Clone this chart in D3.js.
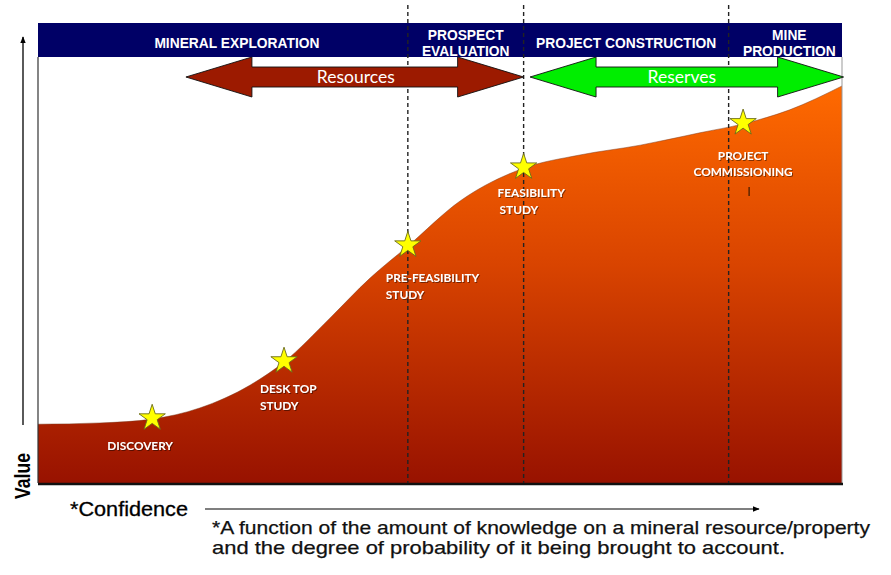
<!DOCTYPE html>
<html>
<head>
<meta charset="utf-8">
<script src="https://cdn.jsdelivr.net/npm/d3@7"></script>
<style>
  body { margin: 0; background: #fff; }
  svg { display: block; }
</style>
</head>
<body>
<svg></svg>
<script>
const W = 891, H = 575;

// curve: value against confidence (both 0..100)
const confidence = [0, 7.7, 14.2, 20.1, 26.4, 30.6, 36.3, 41.3, 46.0, 52.5, 60.4, 67.4, 74.9, 82.3, 87.7, 93.5, 100];
const value      = [13.8, 14.1, 15.0, 17.6, 23.0, 28.4, 38.7, 48.1, 55.6, 66.2, 73.9, 77.0, 79.3, 82.2, 84.3, 87.6, 93.2];

// milestones (stars)
const milestoneNames = [["DISCOVERY"], ["DESK TOP", "STUDY"], ["PRE-FEASIBILITY", "STUDY"], ["FEASIBILITY", "STUDY"], ["PROJECT", "COMMISSIONING"]];
const milestoneConf  = [14.2, 30.6, 46.0, 60.4, 87.7];
const milestoneValue = [15.0, 28.4, 55.6, 73.9, 84.3];

// stages along the top
const stageBounds = [0, 46.0, 60.4, 85.9, 100];
const stageNames  = [["MINERAL EXPLORATION"], ["PROSPECT", "EVALUATION"], ["PROJECT CONSTRUCTION"], ["MINE", "PRODUCTION"]];

// double arrows (confidence ranges)
const arrowNames = ["Resources", "Reserves"];
const arrowFrom  = [18.4, 61.2];
const arrowTo    = [60.4, 100.2];

const axisX = "*Confidence";
const axisY = "Value";
const footnote = ["*A function of the amount of knowledge on a mineral resource/property",
                  "and the degree of probability of it being brought to account."];

// layout
const pLeft = 38, pRight = 842, pTop = 57, pBottom = 483, headTop = 23;
const x = d3.scaleLinear().domain([0, 100]).range([pLeft, pRight]);
const y = d3.scaleLinear().domain([0, 100]).range([pBottom, pTop]);

const svg = d3.select('svg').attr('width', W).attr('height', H);
const defs = svg.append('defs');

const grad = defs.append('linearGradient')
    .attr('id', 'fillGrad')
    .attr('gradientUnits', 'userSpaceOnUse')
    .attr('x1', 0).attr('x2', 0).attr('y1', 85).attr('y2', pBottom);
grad.append('stop').attr('offset', 0).attr('stop-color', '#ff6a00');
grad.append('stop').attr('offset', 0.45).attr('stop-color', '#d94400');
grad.append('stop').attr('offset', 1).attr('stop-color', '#981200');

defs.append('marker')
    .attr('id', 'head')
    .attr('viewBox', '0 0 10 10')
    .attr('refX', 9).attr('refY', 5)
    .attr('markerWidth', 7).attr('markerHeight', 7)
    .attr('markerUnits', 'userSpaceOnUse')
    .attr('orient', 'auto')
    .append('path').attr('d', 'M0,1 L10,5 L0,9 Z').attr('fill', '#000');

const shadow = defs.append('filter').attr('id', 'shadow')
    .attr('x', '-10%').attr('y', '-30%').attr('width', '130%').attr('height', '170%');
shadow.append('feDropShadow')
    .attr('dx', 1).attr('dy', 1).attr('stdDeviation', 0.6)
    .attr('flood-color', '#000').attr('flood-opacity', 0.45);

// area under the curve
const pts = confidence.map((c, i) => ({c: c, v: value[i]}));
const area = d3.area()
    .x(d => x(d.c))
    .y0(pBottom)
    .y1(d => y(d.v))
    .curve(d3.curveMonotoneX);
const line = d3.line()
    .x(d => x(d.c))
    .y(d => y(d.v))
    .curve(d3.curveMonotoneX);

svg.append('path').attr('d', area(pts)).attr('fill', 'url(#fillGrad)');
svg.append('path').attr('d', line(pts)).attr('fill', 'none').attr('stroke', '#7a3a20').attr('stroke-width', 0.8).attr('stroke-opacity', 0.6);

// plot frame
svg.append('line').attr('x1', pLeft).attr('x2', pLeft).attr('y1', pTop).attr('y2', pBottom)
    .attr('stroke', '#333').attr('stroke-width', 1.2);
svg.append('line').attr('x1', pRight).attr('x2', pRight).attr('y1', pTop).attr('y2', pBottom)
    .attr('stroke', '#999').attr('stroke-width', 1);
svg.append('line').attr('x1', pLeft).attr('x2', pRight + 1).attr('y1', pBottom + 1).attr('y2', pBottom + 1)
    .attr('stroke', '#111').attr('stroke-width', 2.4);

// header band
svg.append('rect')
    .attr('x', pLeft).attr('y', headTop)
    .attr('width', pRight - pLeft).attr('height', pTop - headTop)
    .attr('fill', '#000066');

const stages = stageNames.map((n, i) => ({lines: n, from: stageBounds[i], to: stageBounds[i + 1]}));
const stageDx = [14, 0, 0, 4];
svg.append('g').selectAll('text')
    .data(stages)
    .join('text')
    .attr('text-anchor', 'middle')
    .attr('font-family', 'Liberation Sans, Arial, sans-serif')
    .attr('font-weight', 'bold')
    .attr('font-size', 13.8)
    .attr('fill', '#fff')
    .each(function(d, i) {
        const cx = (x(d.from) + x(d.to)) / 2 + stageDx[i];
        const y0 = d.lines.length === 1 ? 48 : 40;
        d3.select(this).selectAll('tspan')
            .data(d.lines)
            .join('tspan')
            .attr('x', cx)
            .attr('y', (t, k) => y0 + k * 15.5)
            .text(t => t);
    });

// stage separators
svg.append('g').selectAll('line')
    .data(stageBounds.slice(1, -1))
    .join('line')
    .attr('x1', d => x(d)).attr('x2', d => x(d))
    .attr('y1', 5).attr('y2', pBottom)
    .attr('stroke', '#222')
    .attr('stroke-width', 1.4)
    .attr('stroke-dasharray', '4,3');

// double arrows
const arrowColors = ['#9c1a00', '#00ee00'];
const arrowY = 77, headLen = 66, headHalf = 20, shaftHalf = 10;
const arrowPath = (a, b) => {
    const x0 = x(a), x1 = x(b);
    return [
        [x0, arrowY], [x0 + headLen, arrowY - headHalf], [x0 + headLen, arrowY - shaftHalf],
        [x1 - headLen, arrowY - shaftHalf], [x1 - headLen, arrowY - headHalf], [x1, arrowY],
        [x1 - headLen, arrowY + headHalf], [x1 - headLen, arrowY + shaftHalf],
        [x0 + headLen, arrowY + shaftHalf], [x0 + headLen, arrowY + headHalf]
    ].map(p => p.join(',')).join(' ');
};
const arrows = svg.append('g').selectAll('g')
    .data(arrowNames.map((n, i) => ({name: n, from: arrowFrom[i], to: arrowTo[i]})))
    .join('g');
arrows.append('polygon')
    .attr('points', d => arrowPath(d.from, d.to))
    .attr('fill', (d, i) => arrowColors[i])
    .attr('stroke', '#111')
    .attr('stroke-width', 0.9);
arrows.append('text')
    .attr('x', (d, i) => (x(d.from) + x(d.to)) / 2 + (i === 0 ? 1 : -5))
    .attr('y', arrowY + 6)
    .attr('text-anchor', 'middle')
    .attr('font-family', 'Lato, Open Sans, sans-serif')
    .attr('font-size', 17.5)
    .attr('fill', '#fff')
    .text(d => d.name);

// milestone stars and labels
const milestones = milestoneNames.map((n, i) => ({lines: n, c: milestoneConf[i], v: milestoneValue[i]}));
const labelDx = [-12, -24, -22, -26, 0];
const labelDy = [31, 31, 36, 29, 36];
const labelAnchor = ['middle', 'start', 'start', 'start', 'middle'];

svg.append('g').selectAll('path')
    .data(milestones)
    .join('path')
    .attr('transform', d => `translate(${x(d.c)},${y(d.v) - 1})`)
    .attr('d', d3.symbol().type(d3.symbolStar).size(215))
    .attr('fill', '#ffff00')
    .attr('stroke', '#6b6b1a')
    .attr('stroke-width', 0.9);

svg.append('g').selectAll('text')
    .data(milestones)
    .join('text')
    .attr('font-family', 'Lato, Open Sans, sans-serif')
    .attr('font-weight', 'bold')
    .attr('font-size', 11.8)
    .attr('fill', '#fff')
    .attr('filter', 'url(#shadow)')
    .attr('text-anchor', (d, i) => labelAnchor[i])
    .each(function(d, i) {
        const lx = x(d.c) + labelDx[i];
        const ly = y(d.v) + labelDy[i];
        d3.select(this).selectAll('tspan')
            .data(d.lines)
            .join('tspan')
            .attr('x', (t, k) => lx + (labelAnchor[i] === 'start' && k === 1 && i === 3 ? 2 : 0))
            .attr('y', (t, k) => ly + k * 16.5)
            .text(t => t);
    });

// stray cursor mark below commissioning label
svg.append('line')
    .attr('x1', x(87.7) + 6).attr('x2', x(87.7) + 6)
    .attr('y1', 187).attr('y2', 196)
    .attr('stroke', '#3a1a00').attr('stroke-width', 1.2);

// value axis arrow
svg.append('line')
    .attr('x1', 23).attr('x2', 23).attr('y1', 425).attr('y2', 37)
    .attr('stroke', '#000').attr('stroke-width', 1.3)
    .attr('marker-end', 'url(#head)');
svg.append('text')
    .attr('transform', 'translate(30,476) rotate(-90)')
    .attr('text-anchor', 'middle')
    .attr('font-family', 'Liberation Sans, Arial, sans-serif')
    .attr('font-weight', 'bold')
    .attr('font-size', 22)
    .attr('textLength', 46)
    .attr('lengthAdjust', 'spacingAndGlyphs')
    .attr('fill', '#000')
    .text(axisY);

// confidence axis
svg.append('text')
    .attr('x', 70).attr('y', 516)
    .attr('font-family', 'Liberation Sans, Arial, sans-serif')
    .attr('font-size', 20)
    .attr('textLength', 118)
    .attr('lengthAdjust', 'spacingAndGlyphs')
    .attr('fill', '#000')
    .attr('stroke', '#000')
    .attr('stroke-width', 0.3)
    .text(axisX);
svg.append('line')
    .attr('x1', 205).attr('x2', 759).attr('y1', 509).attr('y2', 509)
    .attr('stroke', '#000').attr('stroke-width', 1.2)
    .attr('marker-end', 'url(#head)');

svg.append('g').selectAll('text')
    .data(footnote)
    .join('text')
    .attr('x', 212)
    .attr('y', (d, i) => 534 + i * 19.5)
    .attr('font-family', 'Liberation Sans, Arial, sans-serif')
    .attr('font-size', 19)
    .attr('textLength', (d, i) => i === 0 ? 658 : 573)
    .attr('lengthAdjust', 'spacingAndGlyphs')
    .attr('fill', '#111')
    .attr('stroke', '#111')
    .attr('stroke-width', 0.25)
    .text(d => d);
</script>
</body>
</html>
